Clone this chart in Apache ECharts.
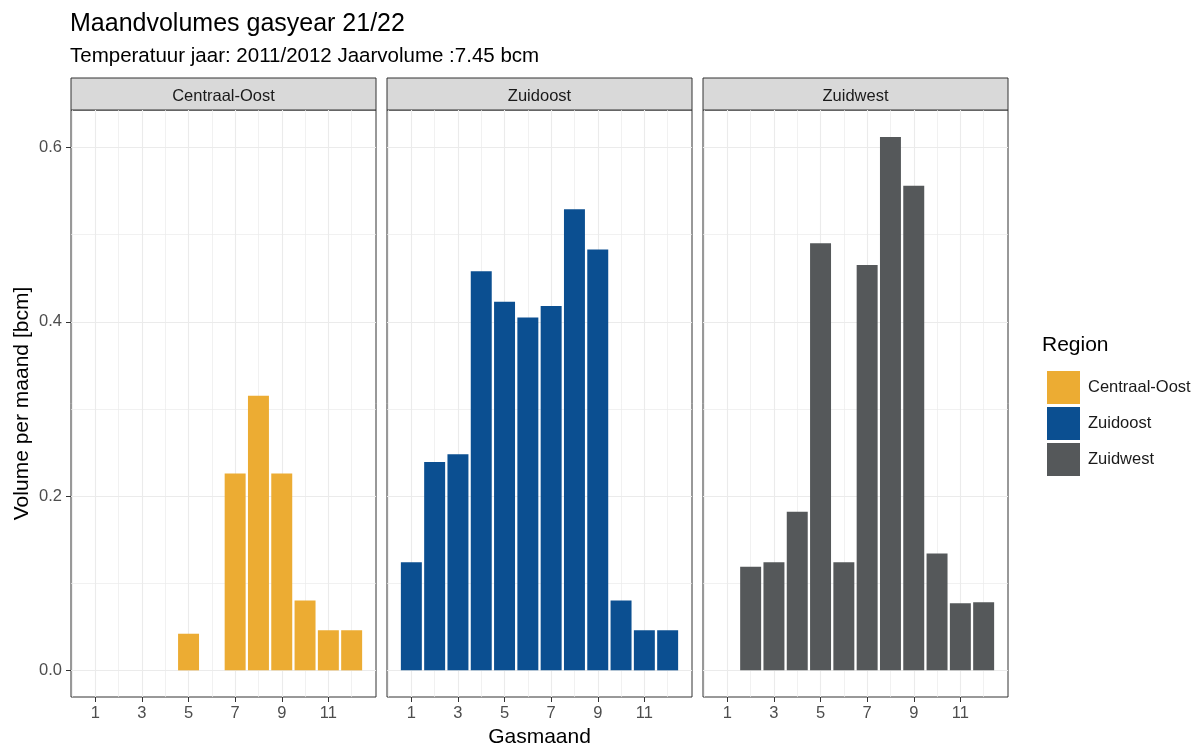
<!DOCTYPE html>
<html>
<head>
<meta charset="utf-8">
<script src="https://cdn.jsdelivr.net/npm/echarts@6/dist/echarts.min.js"></script>
<style>
  html, body { margin: 0; padding: 0; background: #fff; }
  #main { width: 1200px; height: 747px; }
</style>
</head>
<body>
<div id="main"></div>
<script>
var regions = ['Centraal-Oost', 'Zuidoost', 'Zuidwest'];
var regionColors = ['#ecac33', '#0b4f91', '#55585a'];
var months = [1, 2, 3, 4, 5, 6, 7, 8, 9, 10, 11, 12];
// volume per month [bcm], null = no bar
var centraalOost = [null, null, null, null, 0.042, null, 0.226, 0.315, 0.226, 0.080, 0.046, 0.046];
var zuidoost = [0.124, 0.239, 0.248, 0.458, 0.423, 0.405, 0.418, 0.529, 0.483, 0.080, 0.046, 0.046];
var zuidwest = [null, 0.119, 0.124, 0.182, 0.490, 0.124, 0.465, 0.612, 0.556, 0.134, 0.077, 0.078];
var xTicks = [1, 3, 5, 7, 9, 11];
var xMinor = [0, 2, 4, 6, 8, 10, 12];
var yTicks = [0, 0.2, 0.4, 0.6];
var yMinor = [0.1, 0.3, 0.5];

var volumes = [centraalOost, zuidoost, zuidwest];

// layout
var panelLeft = [71, 387, 703];
var panelW = 305;
var plotTop = 110;
var plotH = 587;
var stripTop = 78;
var xMin = -0.045, xMax = 13.045;
var yMin = -0.0306, yMax = 0.643;
var barW = panelW / (xMax - xMin) * 0.9;

var font = 'Liberation Sans, Arial, sans-serif';
var tickColor = '#4d4d4d';
var gridColor = '#ebebeb';

var grids = [], xAxes = [], yAxes = [], series = [], graphics = [];

regions.forEach(function (name, i) {
    grids.push({
        left: panelLeft[i], top: plotTop, width: panelW, height: plotH,
        outerBoundsMode: 'none', containLabel: false,
        show: true, backgroundColor: '#fff', borderColor: '#333', borderWidth: 1
    });
    // major x
    xAxes.push({
        gridIndex: i, type: 'value', min: xMin, max: xMax, position: 'bottom',
        name: i === 1 ? 'Gasmaand' : '', nameLocation: 'middle', nameGap: 29,
        nameTextStyle: { fontSize: 21, color: '#000', fontFamily: font },
        axisLine: { show: false, onZero: false },
        axisTick: { show: true, length: 5, customValues: xTicks, lineStyle: { color: '#333' } },
        axisLabel: { customValues: xTicks, margin: 8, fontSize: 16.5, color: tickColor, fontFamily: font },
        splitLine: { show: true, lineStyle: { color: gridColor, width: 1.1 } }
    });
    // minor x
    xAxes.push({
        gridIndex: i, type: 'value', min: xMin, max: xMax, position: 'bottom',
        axisLine: { show: false, onZero: false },
        axisTick: { show: false, customValues: xMinor },
        axisLabel: { show: false },
        splitLine: { show: true, lineStyle: { color: gridColor, width: 0.7 } }
    });
    // major y
    yAxes.push({
        gridIndex: i, type: 'value', min: yMin, max: yMax, position: 'left',
        name: i === 0 ? 'Volume per maand [bcm]' : '', nameLocation: 'middle', nameGap: 38,
        nameTextStyle: { fontSize: 21, color: '#000', fontFamily: font },
        axisLine: { show: false, onZero: false },
        axisTick: { show: i === 0, length: 5, customValues: yTicks, lineStyle: { color: '#333' } },
        axisLabel: {
            show: i === 0, customValues: yTicks, margin: 9, fontSize: 16.5, color: tickColor, fontFamily: font,
            formatter: function (v) { return v.toFixed(1); }
        },
        splitLine: { show: true, lineStyle: { color: gridColor, width: 1.1 } }
    });
    // minor y
    yAxes.push({
        gridIndex: i, type: 'value', min: yMin, max: yMax, position: 'left',
        axisLine: { show: false, onZero: false },
        axisTick: { show: false, customValues: yMinor },
        axisLabel: { show: false },
        splitLine: { show: true, lineStyle: { color: gridColor, width: 0.7 } }
    });

    var data = [];
    months.forEach(function (m, k) {
        if (volumes[i][k] != null) data.push([m, volumes[i][k]]);
    });
    series.push({
        name: name,
        type: 'bar',
        xAxisIndex: 2 * i,
        yAxisIndex: 2 * i,
        barWidth: barW,
        data: data,
        itemStyle: { color: regionColors[i] },
        emphasis: { disabled: true },
        z: 3
    });

    // facet strip
    graphics.push({
        type: 'rect',
        shape: { x: panelLeft[i], y: stripTop, width: panelW, height: plotTop - stripTop },
        style: { fill: '#d9d9d9', stroke: '#333', lineWidth: 1 }
    });
    graphics.push({
        type: 'text',
        x: panelLeft[i] + panelW / 2, y: 96,
        style: { text: name, fill: '#1a1a1a', font: '16.5px ' + font, align: 'center', verticalAlign: 'middle' }
    });
});

graphics.push({
    type: 'text', x: 70, y: 24,
    style: { text: 'Maandvolumes gasyear 21/22', font: '25px ' + font, fill: '#000', verticalAlign: 'middle' }
});
graphics.push({
    type: 'text', x: 70, y: 56,
    style: { text: 'Temperatuur jaar: 2011/2012 Jaarvolume :7.45 bcm', font: '20.5px ' + font, fill: '#000', verticalAlign: 'middle' }
});
graphics.push({
    type: 'text', x: 1042, y: 345,
    style: { text: 'Region', font: '21px ' + font, fill: '#000', verticalAlign: 'middle' }
});

var chart = echarts.init(document.getElementById('main'));
chart.setOption({
    backgroundColor: '#fff',
    animation: false,
    grid: grids,
    xAxis: xAxes,
    yAxis: yAxes,
    series: series,
    legend: {
        data: regions,
        orient: 'vertical',
        left: 1042,
        top: 366,
        itemWidth: 33,
        itemHeight: 33,
        itemGap: 3,
        icon: 'rect',
        selectedMode: false,
        textStyle: { fontSize: 16.5, color: '#1a1a1a', fontFamily: font, padding: [0, 0, 0, 3] }
    },
    graphic: graphics
});
</script>
</body>
</html>
